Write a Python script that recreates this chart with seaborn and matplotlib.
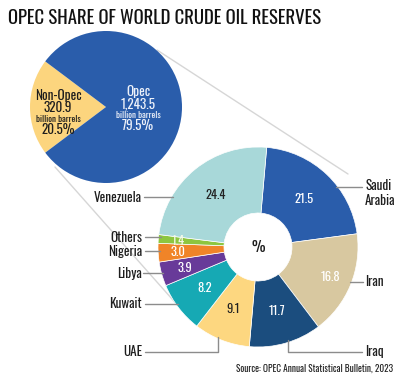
import numpy as np
import matplotlib
matplotlib.use("Agg")
import matplotlib.pyplot as plt
from matplotlib import font_manager as fm
import seaborn as sns

# ---------------- data ----------------
big_labels = ["Non-Opec", "Opec"]
big_values = [320.9, 1243.5]
big_pct = [20.5, 79.5]

countries = ["Saudi\nArabia", "Iran", "Iraq", "UAE", "Kuwait", "Libya",
             "Nigeria", "Others", "Venezuela"]
shares = [21.5, 16.8, 11.7, 9.1, 8.2, 3.9, 3.0, 1.4, 24.4]

title = "OPEC SHARE OF WORLD CRUDE OIL RESERVES"
source = "Source: OPEC Annual Statistical Bulletin, 2023"

# ---------------- style ----------------
sns.set_theme(style="white")

available = {f.name for f in fm.fontManager.ttflist}


def pick(cands):
    for c in cands:
        if c in available:
            return c
    return "DejaVu Sans"


TITLE_FONT = pick(["Oswald", "Fjalla One", "Antonio", "Bebas Neue",
                   "Roboto Condensed", "Barlow Condensed", "Archivo Narrow",
                   "PT Sans Narrow", "Liberation Sans Narrow"])
LABEL_FONT = pick(["Oswald", "Roboto Condensed", "Barlow Semi Condensed",
                   "Archivo Narrow", "PT Sans Narrow", "Liberation Sans Narrow"])
plt.rcParams["font.family"] = [LABEL_FONT, "DejaVu Sans"]

big_colors = sns.color_palette(["#fcd57e", "#2a5dab"])
donut_colors = sns.color_palette(["#2a5dab", "#d8c8a0", "#1b4d7e", "#fdd780",
                                  "#16a9b4", "#683a99", "#f08428", "#8dc63f",
                                  "#a8d8d9"])
value_text_colors = ["white", "white", "white", "#222222", "white", "white",
                     "white", "#f4f8e8", "#222222"]

W, H = 400, 377
fig = plt.figure(figsize=(W / 100, H / 100), dpi=100)
ax = fig.add_axes([0, 0, 1, 1])


def Y(y):
    return H - y


# connector lines (behind pies)
line_col = "#d6d6d6"
ax.plot([157, 348], [Y(50), Y(174)], color=line_col, lw=1.0, zorder=0)
ax.plot([55, 180], [Y(167), Y(308)], color=line_col, lw=1.0, zorder=0)

# ---------------- big pie ----------------
bcx, bcy, br = 106, Y(107), 76
frac_non = big_pct[0] / 100
ax.pie(big_values, colors=big_colors, radius=br, center=(bcx, bcy),
       startangle=180 - frac_non * 360 / 2, counterclock=True, frame=True,
       wedgeprops=dict(linewidth=0))

dark = "#1e1e1e"
light = "#eef2fa"
nx, ox = 58, 138
big_fs = 9.5
ax.text(nx, Y(95), big_labels[0], ha="center", va="center", fontsize=big_fs,
        fontweight="bold", color=dark)
ax.text(nx, Y(108), f"{big_values[0]:,.1f}", ha="center", va="center",
        fontsize=big_fs, fontweight="bold", color=dark)
ax.text(nx, Y(119), "billion barrels", ha="center", va="center", fontsize=6.5,
        color=dark)
ax.text(nx, Y(130), f"{big_pct[0]:.1f}%", ha="center", va="center",
        fontsize=big_fs, fontweight="bold", color=dark)

ax.text(ox, Y(92), big_labels[1], ha="center", va="center", fontsize=big_fs,
        color=light)
ax.text(ox, Y(104), f"{big_values[1]:,.1f}", ha="center", va="center",
        fontsize=big_fs, fontweight="bold", color=light)
ax.text(ox, Y(115), "billion barrels", ha="center", va="center", fontsize=6.5,
        color=light)
ax.text(ox, Y(126), f"{big_pct[1]:.1f}%", ha="center", va="center",
        fontsize=big_fs, fontweight="bold", color=light)

# ---------------- donut ----------------
dcx, dcy, dr, dw = 258, Y(247), 100, 66
wedges, _ = ax.pie(shares, colors=donut_colors, radius=dr, center=(dcx, dcy),
                   startangle=85, counterclock=False, frame=True,
                   wedgeprops=dict(width=dw, edgecolor="white", linewidth=0.5))

label_r = [67, 78, 67, 67, 67, 76, 80, 80, 67]
for w, v, c, rr in zip(wedges, shares, value_text_colors, label_r):
    ang = np.deg2rad((w.theta1 + w.theta2) / 2)
    ax.text(dcx + rr * np.cos(ang), dcy + rr * np.sin(ang), f"{v:.1f}",
            ha="center", va="center", fontsize=9, fontweight="bold",
            color=c)

ax.text(dcx, dcy, "%", ha="center", va="center", fontsize=11,
        fontweight="bold", color=dark)

# ---------------- leader lines & labels ----------------
lc = "#8c8c8c"
lab_fs = 9.5
lab_col = "#1e1e1e"


def edge_x(y_px, side):
    dy = Y(y_px) - dcy
    return dcx + side * np.sqrt(max(dr ** 2 - dy ** 2, 0))


for i, yl, xe in [(0, 187, 362), (1, 282, 363)]:
    ax.plot([edge_x(yl, 1) - 2, xe], [Y(yl), Y(yl)], color=lc, lw=1, zorder=1)
ax.text(365, Y(193), countries[0], ha="left", va="center", fontsize=lab_fs,
        color=lab_col, linespacing=1.2)
ax.text(365, Y(282), countries[1], ha="left", va="center", fontsize=lab_fs,
        color=lab_col)

left = [(8, 197, 144), (7, 237, 145), (6, 251, 145), (5, 273, 143),
        (4, 304, 145)]
for i, yl, xe in left:
    ax.plot([edge_x(yl, -1) + 2, xe], [Y(yl), Y(yl)], color=lc, lw=1, zorder=1)
    ax.text(142, Y(yl), countries[i], ha="right", va="center", fontsize=lab_fs,
            color=lab_col)

# Iraq elbow
x_iq = 288
y_iq0 = H - (dcy - np.sqrt(dr ** 2 - (x_iq - dcx) ** 2)) - 2
ax.plot([x_iq, x_iq, 362], [Y(y_iq0), Y(352), Y(352)], color=lc, lw=1, zorder=1)
ax.text(365, Y(352), countries[2], ha="left", va="center", fontsize=lab_fs,
        color=lab_col)
# UAE elbow
x_ua = 218
y_ua0 = H - (dcy - np.sqrt(dr ** 2 - (x_ua - dcx) ** 2)) - 2
ax.plot([x_ua, x_ua, 145], [Y(y_ua0), Y(352), Y(352)], color=lc, lw=1, zorder=1)
ax.text(142, Y(352), countries[3], ha="right", va="center", fontsize=lab_fs,
        color=lab_col)

# ---------------- title & source ----------------
ax.text(8, Y(18), title, ha="left", va="center", fontsize=13.5,
        fontweight="bold", color="#111111", family=[TITLE_FONT, "DejaVu Sans"])
ax.text(393, Y(369), source, ha="right", va="center", fontsize=6.7,
        color="#222222")

ax.set_xlim(0, W)
ax.set_ylim(0, H)
ax.set_aspect("equal")
ax.axis("off")
fig.savefig("out.png", dpi=100, facecolor="white")
